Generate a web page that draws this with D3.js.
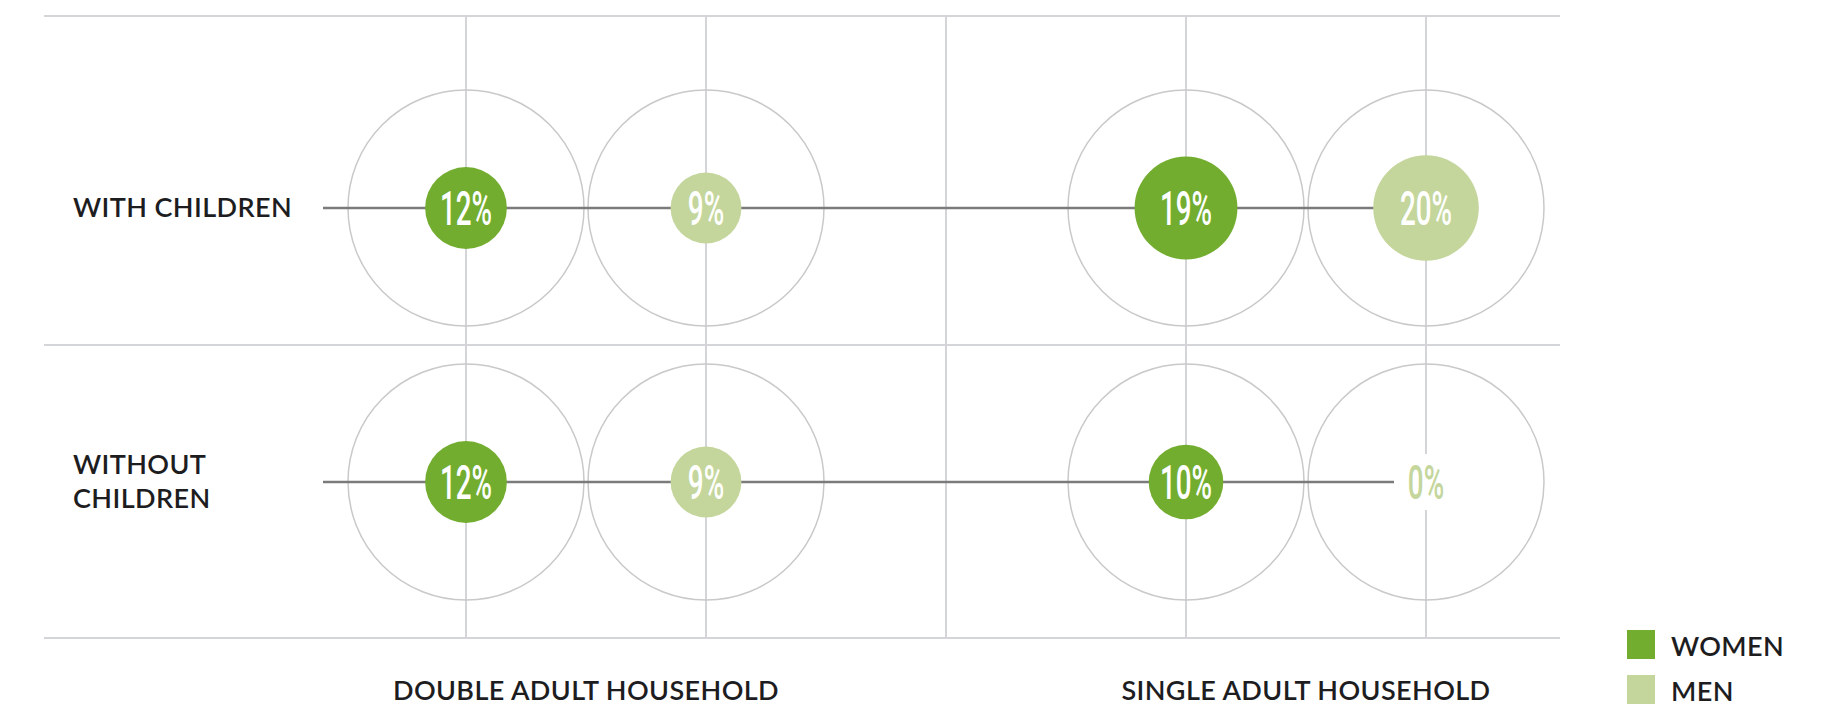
<!DOCTYPE html>
<html>
<head>
<meta charset="utf-8">
<script src="https://cdn.jsdelivr.net/npm/d3@7"></script>
<style>
  html, body { margin: 0; padding: 0; background: #fff; }
  svg { display: block; }
  .lbl { font-family: Lato, "Open Sans", sans-serif; font-size: 27px; font-weight: 600; fill: #1d1d1f; letter-spacing: 0.4px; }
  .pct { font-family: Roboto, "DejaVu Sans", sans-serif; font-size: 48px; font-weight: 500; fill: #fff; }
</style>
</head>
<body>
<div id="chart"></div>
<script>
// data
const rows = ['WITH CHILDREN', 'WITHOUT CHILDREN'];
const households = ['DOUBLE ADULT HOUSEHOLD', 'SINGLE ADULT HOUSEHOLD'];
const genders = ['WOMEN', 'MEN'];
// values per row, one entry per household
const womenValues = [[12, 19], [12, 10]];
const menValues = [[9, 20], [9, 0]];

const colors = { WOMEN: '#73ad2f', MEN: '#c4d69c' };

const width = 1830, height = 707;
const gridTop = 16, gridBottom = 638, gridLeft = 44, gridRight = 1560;

const svg = d3.select('#chart').append('svg')
  .attr('width', width)
  .attr('height', height);

// one column per household/gender, with a spacer slot between the households
const colKeys = [];
households.forEach((h, i) => {
  if (i > 0) colKeys.push('gap' + i);
  genders.forEach(g => colKeys.push(h + '|' + g));
});

const x = d3.scalePoint().domain(colKeys).range([466, 1426]);
const y = d3.scalePoint().domain(rows).range([208, 482]);
const r = d3.scaleSqrt().domain([0, 100]).range([0, 118]);

// flatten cells
const cells = [];
rows.forEach((row, ri) => {
  households.forEach((h, hi) => {
    cells.push({ row, household: h, gender: 'WOMEN', value: womenValues[ri][hi] });
    cells.push({ row, household: h, gender: 'MEN', value: menValues[ri][hi] });
  });
});

const grid = svg.append('g');
const gridColor = '#d3d5d8';

// horizontal rules: top, between rows, bottom
const rowGap = y.step() / 2;
const hLines = [gridTop, y(rows[0]) + rowGap, gridBottom];
grid.selectAll('line.h')
  .data(hLines)
  .enter().append('line')
  .attr('x1', gridLeft).attr('x2', gridRight)
  .attr('y1', d => d).attr('y2', d => d)
  .attr('stroke', gridColor).attr('stroke-width', 2);

// vertical rules through every column (including the spacer)
grid.selectAll('line.v')
  .data(colKeys)
  .enter().append('line')
  .attr('x1', d => x(d)).attr('x2', d => x(d))
  .attr('y1', gridTop).attr('y2', gridBottom)
  .attr('stroke', gridColor).attr('stroke-width', 2);

// 100% reference circles
svg.append('g').selectAll('circle')
  .data(cells)
  .enter().append('circle')
  .attr('cx', d => x(d.household + '|' + d.gender))
  .attr('cy', d => y(d.row))
  .attr('r', r(100))
  .attr('fill', 'none')
  .attr('stroke', '#c9c9cb')
  .attr('stroke-width', 1.5);

// row connector lines
const lastCol = colKeys[colKeys.length - 1];
svg.append('g').selectAll('line')
  .data(rows)
  .enter().append('line')
  .attr('x1', 323).attr('x2', x(lastCol))
  .attr('y1', d => y(d)).attr('y2', d => y(d))
  .attr('stroke', '#7b7b7b').attr('stroke-width', 2.5);

// bubbles
svg.append('g').selectAll('circle')
  .data(cells)
  .enter().append('circle')
  .attr('cx', d => x(d.household + '|' + d.gender))
  .attr('cy', d => y(d.row))
  .attr('r', d => r(d.value))
  .attr('fill', d => colors[d.gender]);

// value labels
const labels = svg.append('g').selectAll('g')
  .data(cells)
  .enter().append('g')
  .attr('transform', d => `translate(${x(d.household + '|' + d.gender)},${y(d.row)})`);

labels.filter(d => d.value === 0).append('rect')
  .attr('x', -32).attr('y', -28)
  .attr('width', 66).attr('height', 56)
  .attr('fill', '#fff');

labels.append('text')
  .attr('class', 'pct')
  .attr('text-anchor', 'middle')
  .attr('dy', '0.36em')
  .attr('transform', 'scale(0.58,1)')
  .style('fill', d => d.value === 0 ? colors[d.gender] : '#fff')
  .text(d => d.value + '%');

// row labels
svg.append('g').selectAll('text')
  .data(rows)
  .enter().append('text')
  .attr('class', 'lbl')
  .attr('x', 73)
  .attr('y', d => y(d))
  .each(function (d) {
    const words = d === 'WITH CHILDREN' ? [d] : d.split(' ');
    const t = d3.select(this);
    const lh = 34;
    const start = -((words.length - 1) * lh) / 2 + 9;
    words.forEach((w, i) => {
      t.append('tspan').attr('x', 73).attr('dy', i === 0 ? start : lh).text(w);
    });
  });

// household labels
svg.append('g').selectAll('text')
  .data(households)
  .enter().append('text')
  .attr('class', 'lbl')
  .attr('text-anchor', 'middle')
  .attr('x', d => (x(d + '|' + genders[0]) + x(d + '|' + genders[1])) / 2)
  .attr('y', 700)
  .text(d => d);

// legend
const legend = svg.append('g').attr('transform', 'translate(1627,630)');
const lg = legend.selectAll('g')
  .data(genders)
  .enter().append('g')
  .attr('transform', (d, i) => `translate(0,${i * 45})`);
lg.append('rect').attr('width', 28).attr('height', 29).attr('fill', d => colors[d]);
lg.append('text').attr('class', 'lbl').attr('x', 44).attr('y', 26).text(d => d);
</script>
</body>
</html>
